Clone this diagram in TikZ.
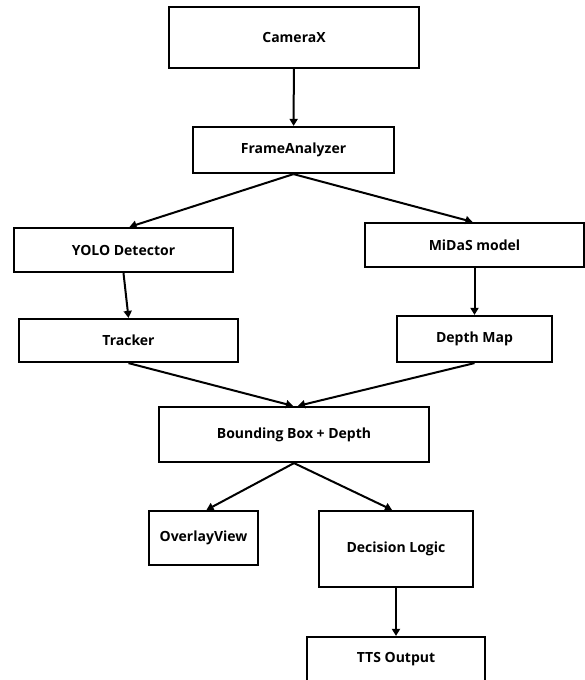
\documentclass[tikz,border=0pt]{standalone}
\usepackage{fontspec}
\setmainfont{Open Sans}
\usetikzlibrary{arrows.meta}

\begin{document}
\begin{tikzpicture}[x=1pt, y=-1pt,
        box/.style = {draw, line width=2.2pt, inner sep=0pt,
            font=\bfseries\fontsize{14}{16}\selectfont},
        flow/.style = {-{Triangle[width=8pt,length=7pt]}, line width=2pt}]
        \useasboundingbox (0,0) rectangle (585,680);
        \clip (0,0) rectangle (585,680);
        % boxes
        \node[box, minimum width=250pt, minimum height=61pt] (camera) at (294,37.5) {CameraX};
        \node[box, minimum width=201pt, minimum height=46pt] (frame) at (293.5,150) {FrameAnalyzer};
        \node[box, minimum width=219pt, minimum height=44pt] (yolo) at (123.5,250) {YOLO Detector};
        \node[box, minimum width=219pt, minimum height=44pt] (midas) at (474.5,245) {MiDaS model};
        \node[box, minimum width=219pt, minimum height=43pt] (tracker) at (128.5,340.5) {Tracker};
        \node[box, minimum width=155pt, minimum height=46pt] (depthmap) at (474.5,339) {Depth Map};
        \node[box, minimum width=270pt, minimum height=55pt] (bbox) at (294,434.5) {Bounding Box + Depth};
        \node[box, minimum width=109pt, minimum height=54pt] (overlay) at (203.5,538) {OverlayView};
        \node[box, minimum width=154pt, minimum height=76pt] (decision) at (396,549) {Decision Logic};
        \node[box, minimum width=178pt, minimum height=44pt] (tts) at (396,659) {TTS Output};
        % arrows
        \draw[flow] (camera) -- (frame);
        \draw[flow] (frame.south) -- ([xshift=6pt]yolo.north);
        \draw[flow] (frame.south) -- ([xshift=-2pt]midas.north);
        \draw[flow] (yolo.south) -- (tracker.north);
        \draw[flow] (midas) -- (depthmap);
        \draw[flow] (tracker.south) -- ([xshift=-1pt]bbox.north);
        \draw[flow] (depthmap.south) -- ([xshift=4pt]bbox.north);
        \draw[flow] (bbox.south) -- ([xshift=3pt]overlay.north);
        \draw[flow] (bbox.south) -- ([xshift=-4pt]decision.north);
        \draw[flow] (decision) -- (tts);
\end{tikzpicture}
\end{document}
